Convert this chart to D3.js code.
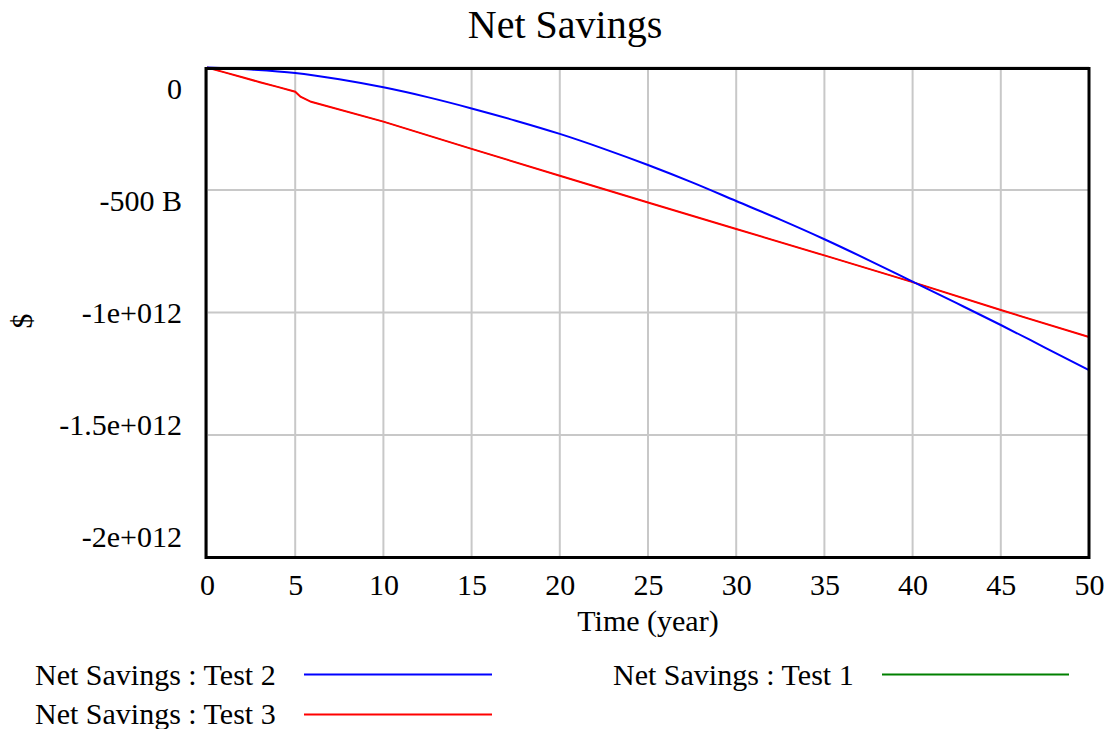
<!DOCTYPE html>
<html>
<head>
<meta charset="utf-8">
<script src="https://cdn.jsdelivr.net/npm/d3@7"></script>
<style>
  html, body { margin: 0; padding: 0; background: #fff; }
  svg text { font-family: "Liberation Serif", "Times New Roman", serif; fill: #000; }
</style>
</head>
<body>
<svg id="chart" width="1110" height="729"></svg>
<script>
// ---- Data (values in dollars) ----
const timesTest2 = [0, 2.5, 5, 7.5, 10, 12.5, 15, 17.5, 20, 22.5, 25, 27.5, 30, 32.5, 35, 37.5, 40, 42.5, 45, 47.5, 50];
const valuesTest2 = [0, -8e9, -22e9, -48e9, -81e9, -121e9, -167e9, -217e9, -271e9, -332e9, -398e9, -469e9, -545e9, -621e9, -701e9, -786e9, -874e9, -962e9, -1051e9, -1143e9, -1235e9];

const timesTest3 = [0, 1, 2, 3, 4, 5, 5.3, 5.9, 10, 15, 20, 25, 30, 35, 40, 45, 50];
const valuesTest3 = [0, -20e9, -40e9, -60e9, -79e9, -99e9, -119e9, -140e9, -221e9, -332e9, -442e9, -551e9, -659e9, -767e9, -876e9, -990e9, -1100e9];

// Test 1 lies underneath Test 3 (only a few green pixels peek out)
const timesTest1 = timesTest3;
const valuesTest1 = valuesTest3;

const xTicks = [0, 5, 10, 15, 20, 25, 30, 35, 40, 45, 50];
const yTicks = [0, -5e11, -1e12, -1.5e12, -2e12];
const yTickLabels = ["0", "-500 B", "-1e+012", "-1.5e+012", "-2e+012"];

const seriesNames = ["Net Savings : Test 2", "Net Savings : Test 1", "Net Savings : Test 3"];
const seriesColors = ["#0000ff", "#008000", "#ff0000"];

// ---- Layout ----
const svg = d3.select("#chart");
svg.append("rect").attr("width", 1110).attr("height", 729).attr("fill", "#fff");

const pLeft = 207, pRight = 1089, pTop = 67.5, pBottom = 557.5;
const x = d3.scaleLinear().domain([0, 50]).range([pLeft, pRight]);
const y = d3.scaleLinear().domain([-2e12, 0]).range([pBottom, pTop]);
// Vensim spreads the y labels inside the plot
const yLabelPos = d3.scaleLinear().domain([0, -2e12]).range([99, 546.7]);

// Title
svg.append("text").attr("x", 565).attr("y", 38).attr("text-anchor", "middle")
  .attr("font-size", 40).text("Net Savings");

// Grid
const grid = svg.append("g");
grid.selectAll("line.gx").data(xTicks).join("line").attr("class", "gx")
  .attr("x1", d => x(d)).attr("x2", d => x(d)).attr("y1", pTop).attr("y2", pBottom)
  .attr("stroke", "#c8c8c8").attr("stroke-width", 2);
grid.selectAll("line.gy").data(yTicks).join("line").attr("class", "gy")
  .attr("y1", d => y(d)).attr("y2", d => y(d)).attr("x1", pLeft).attr("x2", pRight)
  .attr("stroke", "#c8c8c8").attr("stroke-width", 2);

// X axis labels
const xAxis = d3.axisBottom(x).tickValues(xTicks).tickSize(0).tickPadding(0).tickFormat(d3.format("d"));
const gx = svg.append("g").attr("transform", `translate(0,${pBottom})`).call(xAxis);
gx.select(".domain").remove();
gx.selectAll("text").attr("font-size", 30).attr("dy", null).attr("y", 37.5)
  .attr("font-family", '"Liberation Serif", "Times New Roman", serif').attr("fill", "#000");

svg.append("text").attr("x", (pLeft + pRight) / 2).attr("y", 631).attr("text-anchor", "middle")
  .attr("font-size", 30).text("Time (year)");

// Y labels
svg.append("g").selectAll("text").data(yTicks).join("text")
  .attr("x", 182).attr("y", d => yLabelPos(d)).attr("text-anchor", "end")
  .attr("font-size", 30).text((d, i) => yTickLabels[i]);

svg.append("text").attr("transform", "translate(32,321) rotate(-90)")
  .attr("text-anchor", "middle").attr("font-size", 30).text("$");

// Lines
const smooth = d3.line().curve(d3.curveMonotoneX).x(d => x(d[0])).y(d => y(d[1]));
const straight = d3.line().curve(d3.curveLinear).x(d => x(d[0])).y(d => y(d[1]));
const toPts = (ts, vs) => ts.map((t, i) => [t, vs[i]]);
const plot = svg.append("g");
plot.append("path").datum(toPts(timesTest1, valuesTest1)).attr("d", straight)
  .attr("fill", "none").attr("stroke", seriesColors[1]).attr("stroke-width", 1);
plot.append("path").datum(toPts(timesTest3, valuesTest3)).attr("d", straight)
  .attr("fill", "none").attr("stroke", seriesColors[2]).attr("stroke-width", 2);
plot.append("path").datum(toPts(timesTest2, valuesTest2)).attr("d", smooth)
  .attr("fill", "none").attr("stroke", seriesColors[0]).attr("stroke-width", 2);

// Frame
svg.append("rect").attr("x", pLeft - 1).attr("y", pTop + 1).attr("width", pRight - pLeft + 1)
  .attr("height", pBottom - pTop - 1).attr("fill", "none").attr("stroke", "#000").attr("stroke-width", 3);

// Legend
const legendItems = [
  { name: seriesNames[0], color: seriesColors[0], tx: 35, ty: 685, lx1: 304, lx2: 492, ly: 674.5 },
  { name: seriesNames[1], color: seriesColors[1], tx: 613, ty: 685, lx1: 882, lx2: 1069, ly: 674.5 },
  { name: seriesNames[2], color: seriesColors[2], tx: 35, ty: 724, lx1: 304, lx2: 492, ly: 714.5 }
];
const lg = svg.append("g").selectAll("g").data(legendItems).join("g");
lg.append("text").attr("x", d => d.tx).attr("y", d => d.ty).attr("font-size", 30).text(d => d.name);
lg.append("line").attr("x1", d => d.lx1).attr("x2", d => d.lx2).attr("y1", d => d.ly).attr("y2", d => d.ly)
  .attr("stroke", d => d.color).attr("stroke-width", 2);
</script>
</body>
</html>
